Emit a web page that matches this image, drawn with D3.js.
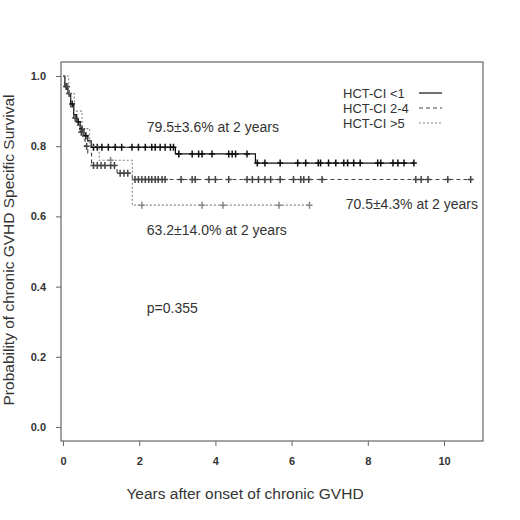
<!DOCTYPE html>
<html>
<head>
<meta charset="utf-8">
<script src="https://cdnjs.cloudflare.com/ajax/libs/d3/7.8.5/d3.min.js"></script>
<style>
body { margin: 0; background: #fff; }
text { font-family: 'Liberation Sans', Arial, sans-serif; }
</style>
</head>
<body>
<div id="content"></div>
<script>
'use strict';

// 三组 KM 曲线：时间(年) 和 生存概率
var lowTimes = [0, 0.05, 0.13, 0.2, 0.28, 0.36, 0.45, 0.55, 0.65, 0.74, 2.95, 5.05]
var lowSurv = [1, 0.97, 0.95, 0.92, 0.89, 0.87, 0.85, 0.83, 0.815, 0.797, 0.778, 0.752]
var lowEnd = 9.21
var lowCens = [0.1, 0.24, 0.4, 0.5, 0.6, 0.8, 0.9, 1.02, 1.19, 1.37, 1.54, 1.81, 1.98, 2.16, 2.33, 2.42, 2.55, 2.68, 2.82, 2.9,
    3.04, 3.39, 3.56, 3.65, 3.91, 4.35, 4.44, 4.53, 4.83,
    5.1, 5.3, 5.7, 6.16, 6.37, 6.7, 6.76, 6.97, 7.16, 7.37, 7.47, 7.63, 7.8, 8.26, 8.34, 8.66, 8.79, 8.95, 9.21]

var midTimes = [0, 0.04, 0.13, 0.2, 0.28, 0.36, 0.45, 0.52, 0.58, 0.65, 0.75, 1.42, 1.82]
var midSurv = [1, 0.97, 0.95, 0.91, 0.88, 0.86, 0.84, 0.82, 0.8, 0.78, 0.745, 0.723, 0.705]
var midEnd = 10.7
var midCens = [0.08, 0.16, 0.32, 0.48, 0.62, 0.8, 0.9, 1.0, 1.1, 1.25, 1.35, 1.5, 1.6, 1.7,
    1.89, 1.98, 2.07, 2.16, 2.25, 2.33, 2.42, 2.5, 2.6, 2.68, 3.1, 3.39, 3.47, 3.83, 4.0, 4.35, 4.83, 4.97,
    5.13, 5.3, 5.45, 5.7, 6.05, 6.24, 6.32, 6.45, 6.8, 9.26, 9.4, 9.58, 10.1, 10.7]

var highTimes = [0, 0.15, 0.3, 0.5, 0.7, 0.95, 1.82]
var highSurv = [1, 0.95, 0.9, 0.85, 0.8, 0.76, 0.632]
var highEnd = 6.47
var highCens = [1.25, 2.07, 3.65, 4.2, 5.67, 6.47]

var legendLabels = ['HCT-CI <1', 'HCT-CI 2-4', 'HCT-CI >5']
var xTicks = [0, 2, 4, 6, 8, 10]
var yTicks = [0, 0.2, 0.4, 0.6, 0.8, 1.0]
var notes = [
    { text: '79.5\u00b13.6% at 2 years', t: 2.2, s: 0.855 },
    { text: '70.5\u00b14.3% at 2 years', t: 7.42, s: 0.635 },
    { text: '63.2\u00b114.0% at 2 years', t: 2.2, s: 0.562 },
    { text: 'p=0.355', t: 2.2, s: 0.34 }
]

var width = 520
var height = 520
var box = { left: 61, right: 483, top: 62, bottom: 441 }

var svg = d3.select('#content').append('svg').attr('width', width).attr('height', height)

var x = d3.scaleLinear().domain([0, 10]).range([63, 444])
var y = d3.scaleLinear().domain([0, 1]).range([427, 76])

// 外框
svg.append('rect')
    .attr('x', box.left).attr('y', box.top)
    .attr('width', box.right - box.left).attr('height', box.bottom - box.top)
    .style('fill', 'none').style('stroke', '#666').style('stroke-width', 1.2)

var yAxis = svg.append('g').attr('transform', 'translate(' + (box.left) + ',0)')
    .call(d3.axisLeft(y).tickValues(yTicks).tickFormat(d3.format('.1f')).tickSize(5).tickPadding(10))
var xAxis = svg.append('g').attr('transform', 'translate(0,' + box.bottom + ')')
    .call(d3.axisBottom(x).tickValues(xTicks).tickFormat(d3.format('d')).tickSize(5).tickPadding(11))
;[yAxis, xAxis].forEach(function(a) {
    a.select('.domain').remove()
    a.selectAll('line').style('stroke', '#666')
    a.selectAll('text').style('font-size', '11px').style('font-weight', 'bold').style('fill', '#333')
})

svg.append('text').attr('x', 245).attr('y', 499).attr('text-anchor', 'middle')
    .style('font-size', '15.5px').style('fill', '#333').text('Years after onset of chronic GVHD')
svg.append('text').attr('transform', 'translate(14,250) rotate(-90)').attr('text-anchor', 'middle')
    .style('font-size', '15.5px').style('fill', '#333').text('Probability of chronic GVHD Specific Survival')

function stepPath(times, surv, end) {
    var pts = []
    for (var i = 0; i < times.length; i++) {
        if (i > 0) pts.push([times[i], surv[i - 1]])
        pts.push([times[i], surv[i]])
    }
    pts.push([end, surv[surv.length - 1]])
    return d3.line().x(function(d) { return x(d[0]) }).y(function(d) { return y(d[1]) })(pts)
}

function survAt(times, surv, t) {
    var v = surv[0]
    for (var i = 0; i < times.length; i++) {
        if (times[i] <= t) v = surv[i]
    }
    return v
}

var groups = [
    { times: lowTimes, surv: lowSurv, end: lowEnd, cens: lowCens, color: '#111', dash: null, w: 1.2 },
    { times: midTimes, surv: midSurv, end: midEnd, cens: midCens, color: '#444', dash: '4,3', w: 1.1 },
    { times: highTimes, surv: highSurv, end: highEnd, cens: highCens, color: '#888', dash: '2,2', w: 1.1 }
]

groups.forEach(function(g) {
    svg.append('path').attr('d', stepPath(g.times, g.surv, g.end))
        .style('fill', 'none').style('stroke', g.color).style('stroke-width', g.w)
        .style('stroke-dasharray', g.dash)
    svg.append('g').selectAll('path').data(g.cens).enter().append('path')
        .attr('d', function(t) {
            var cx = x(t), cy = y(survAt(g.times, g.surv, t))
            return 'M' + (cx - 3) + ',' + cy + 'H' + (cx + 3) + 'M' + cx + ',' + (cy - 3.5) + 'V' + (cy + 3.5)
        })
        .style('stroke', g.color).style('stroke-width', 1.5).style('fill', 'none')
})

// 图例
var legend = svg.append('g')
legendLabels.forEach(function(l, i) {
    var ly = 93 + i * 15
    legend.append('text').attr('x', 343).attr('y', ly + 4.5).style('font-size', '13px').style('fill', '#333').text(l)
    legend.append('line').attr('x1', 419).attr('x2', 442).attr('y1', ly).attr('y2', ly)
        .style('stroke', groups[i].color).style('stroke-width', 1.2).style('stroke-dasharray', groups[i].dash)
})

svg.append('g').selectAll('text').data(notes).enter().append('text')
    .attr('x', function(d) { return x(d.t) })
    .attr('y', function(d) { return y(d.s) + 5 })
    .style('font-size', '14px').style('fill', '#333')
    .text(function(d) { return d.text })
</script>
</body>
</html>
